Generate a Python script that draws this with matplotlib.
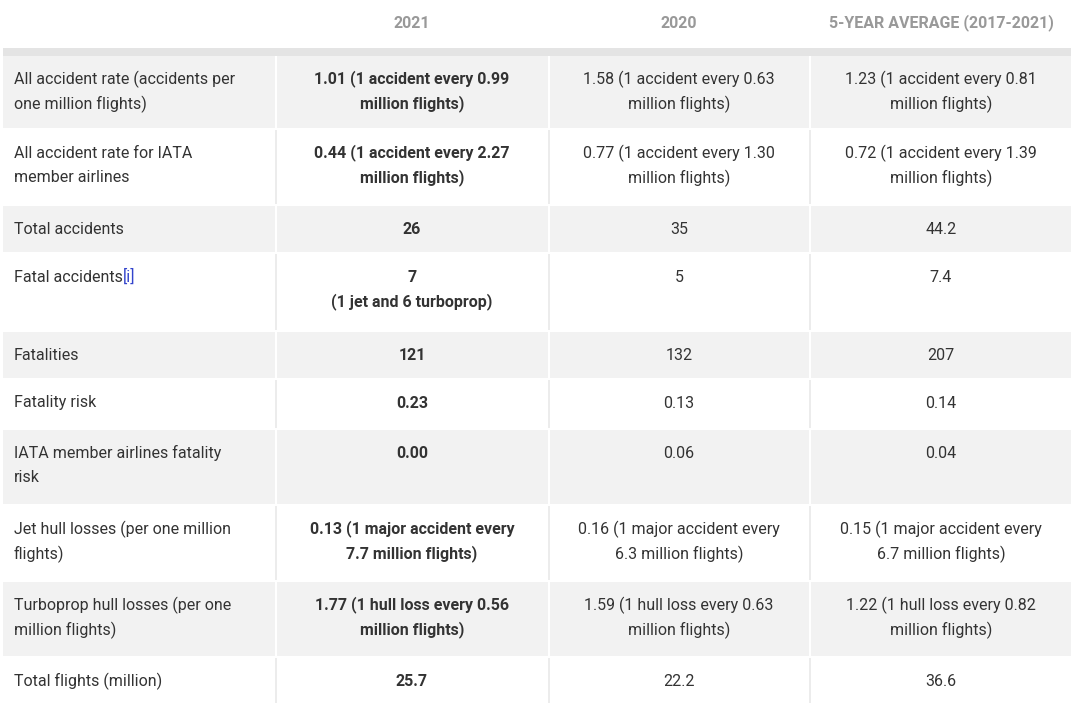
import matplotlib
matplotlib.use("Agg")
import matplotlib.pyplot as plt
from matplotlib.patches import Rectangle

headers = ["", "2021", "2020", "5-YEAR AVERAGE (2017-2021)"]
row_labels = ["All accident rate (accidents per\none million flights)",
              "All accident rate for IATA\nmember airlines",
              "Total accidents", "Fatal accidents", "Fatalities", "Fatality risk",
              "IATA member airlines fatality\nrisk",
              "Jet hull losses (per one million\nflights)",
              "Turboprop hull losses (per one\nmillion flights)",
              "Total flights (million)"]
col_2021 = ["1.01 (1 accident every 0.99\nmillion flights)",
            "0.44 (1 accident every 2.27\nmillion flights)",
            "26", "7\n(1 jet and 6 turboprop)", "121", "0.23", "0.00",
            "0.13 (1 major accident every\n7.7 million flights)",
            "1.77 (1 hull loss every 0.56\nmillion flights)", "25.7"]
col_2020 = ["1.58 (1 accident every 0.63\nmillion flights)",
            "0.77 (1 accident every 1.30\nmillion flights)",
            "35", "5", "132", "0.13", "0.06",
            "0.16 (1 major accident every\n6.3 million flights)",
            "1.59 (1 hull loss every 0.63\nmillion flights)", "22.2"]
col_avg = ["1.23 (1 accident every 0.81\nmillion flights)",
           "0.72 (1 accident every 1.39\nmillion flights)",
           "44.2", "7.4", "207", "0.14", "0.04",
           "0.15 (1 major accident every\n6.7 million flights)",
           "1.22 (1 hull loss every 0.82\nmillion flights)", "36.6"]

W, H = 1075, 703
fig = plt.figure(figsize=(W/100, H/100), dpi=100)
ax = fig.add_axes([0, 0, 1, 1])
ax.set_xlim(0, W); ax.set_ylim(H, 0); ax.axis("off")

FONT = "Roboto"
fs = 16*72/100
txt = "#333333"
gray = "#f2f2f2"
line = "#ececec"

row_tops = [56, 130, 206, 254, 332, 380, 430, 506, 582, 658]
row_bots = [128, 204, 252, 330, 378, 428, 504, 580, 656, 703]
col_x = [3, 277, 550, 811]
col_r = [275, 548, 809, 1071]
col_c = [None, 412, 679, 941]

ax.add_patch(Rectangle((3, 48), 1068, 8, color="#e4e4e4", lw=0))
for i, (t, b) in enumerate(zip(row_tops, row_bots)):
    for j in range(4):
        if i % 2 == 0:
            ax.add_patch(Rectangle((col_x[j], t), col_r[j]-col_x[j], b-t, color=gray, lw=0))
    if i % 2 == 1:
        for xr in col_r[:3]:
            ax.add_patch(Rectangle((xr, t), 2, b-t, color=line, lw=0))

for j in range(1, 4):
    ax.text(col_c[j], 23, headers[j], ha="center", va="center", fontsize=fs,
            fontfamily=FONT, fontweight="bold", color="#999999")

def put(x, y, s, ha, bold=False):
    for k, ln in enumerate(s.split("\n")):
        ax.text(x, y + 25*k, ln, ha=ha, va="center", fontsize=fs, fontfamily=FONT,
                fontweight="bold" if bold else "normal", color=txt)

for i, t in enumerate(row_tops):
    y = t + 23
    put(14, y, row_labels[i], "left")
    if i == 3:
        tt = ax.text(14, y, row_labels[i], ha="left", va="center", fontsize=fs, fontfamily=FONT, color=txt)
        fig.canvas.draw()
        bb = tt.get_window_extent()
        tt.remove()
        ax.texts[-1].remove() if False else None
        ax.text(bb.x1, y, "[i]", ha="left", va="center", fontsize=fs, fontfamily=FONT, color="#3344cc")
    put(col_c[1], y, col_2021[i], "center", bold=True)
    put(col_c[2], y, col_2020[i], "center")
    put(col_c[3], y, col_avg[i], "center")

fig.savefig("out.png", dpi=100)
